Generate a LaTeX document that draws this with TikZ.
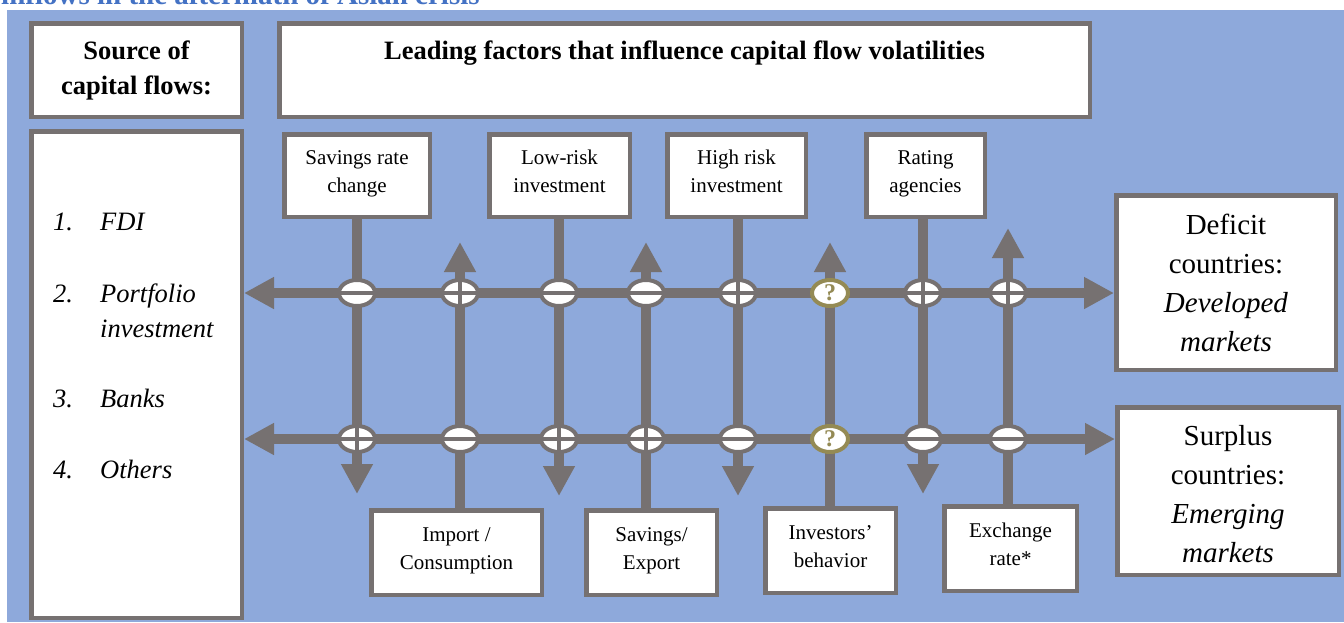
\documentclass[tikz,border=0pt]{standalone}
\usepackage{fontspec}
\setmainfont{Liberation Serif}
\usetikzlibrary{arrows.meta,shapes.geometric,calc}

\definecolor{panelblue}{HTML}{8EA9DB}
\definecolor{linegray}{HTML}{767171}
\definecolor{olivering}{HTML}{948A54}
\definecolor{titleblue}{HTML}{4472C4}

% strut for the two-line factor labels (height 17pt, depth 11pt)
\newcommand\lnstrut{\rule[-11pt]{0pt}{28pt}}

\begin{document}
\begin{tikzpicture}[x=1pt,y=-1pt,
  box/.style={draw=linegray, line width=4.5pt, fill=white, inner sep=0pt, align=center},
  factor/.style={box, font=\fontsize{21}{28}\selectfont},
  header/.style={box, font=\fontsize{26.5}{35}\selectfont\bfseries},
  market/.style={box, font=\fontsize{29}{39}\selectfont},
  listitem/.style={anchor=base west, inner sep=0pt, font=\fontsize{26.5}{35}\selectfont\itshape},
  flow/.style={draw=linegray, line width=10pt},
  headtip/.style={-{Triangle[length=30pt,width=30pt]}},
  bothtips/.style={{Triangle[length=30pt,width=30pt]}-{Triangle[length=30pt,width=30pt]}},
  sign/.style={ellipse, draw=linegray, line width=4pt, fill=white,
    minimum width=36pt, minimum height=26pt, inner sep=0pt},
  minus/.style={sign, path picture={
    \fill[linegray] ([yshift=-1.8pt]path picture bounding box.west)
      rectangle ([yshift=1.8pt]path picture bounding box.east);}},
  plus/.style={sign, path picture={
    \fill[linegray] ([yshift=-1.8pt]path picture bounding box.west)
      rectangle ([yshift=1.8pt]path picture bounding box.east);
    \fill[linegray] ([xshift=-1.8pt]path picture bounding box.south)
      rectangle ([xshift=1.8pt]path picture bounding box.north);}},
  query/.style={sign, draw=olivering, text=olivering,
    font=\fontsize{24}{24}\selectfont\bfseries}
]
\useasboundingbox (0,0) rectangle (1344,622);
\fill[white] (0,0) rectangle (1344,622);
\fill[panelblue] (7,10) rectangle (1344,622);

% caption line above the panel
\node[anchor=base west, inner sep=0pt, text=titleblue,
  font=\fontsize{29}{35}\selectfont\bfseries] (title) at (1,4)
  {inflows in the aftermath of Asian crisis};

% headers
\node[header, minimum width=210.5pt, minimum height=93.5pt] (src) at (136.5,70)
  {\strut Source of\\\strut capital flows:};
\node[header, minimum width=810.5pt, minimum height=93.5pt] (lead) at (684.5,70)
  {\strut Leading factors that influence capital flow volatilities\\\strut};

% list of sources
\node[box, minimum width=210.5pt, minimum height=486.5pt] (list) at (136.5,374.5) {};
\node[listitem] (n1) at (53,230) {1.};
\node[listitem] (i1) at (100,230) {FDI};
\node[listitem] (n2) at (53,302) {2.};
\node[listitem] (i2) at (100,302) {Portfolio};
\node[listitem] (i2b) at (100,337) {investment};
\node[listitem] (n3) at (53,407) {3.};
\node[listitem] (i3) at (100,407) {Banks};
\node[listitem] (n4) at (53,478) {4.};
\node[listitem] (i4) at (100,478) {Others};

% destination markets
\node[market, minimum width=219.5pt, minimum height=174.5pt] (deficit) at (1226,282.5)
  {\rule{0pt}{32pt}Deficit\\\strut countries:\\\strut\textit{Developed}\\\strut\textit{markets}};
\node[market, minimum width=221.5pt, minimum height=167.5pt] (surplus) at (1228,491)
  {\rule{0pt}{37pt}Surplus\\\strut countries:\\\strut\textit{Emerging}\\\strut\textit{markets}};

% factor boxes, upper row
\node[factor, minimum width=145.5pt, minimum height=82.5pt] (A) at (357,175.5)
  {\lnstrut Savings rate\\\lnstrut change};
\node[factor, minimum width=140.5pt, minimum height=82.5pt] (B) at (559.5,175.5)
  {\lnstrut Low-risk\\\lnstrut investment};
\node[factor, minimum width=138.5pt, minimum height=82.5pt] (C) at (736.5,175.5)
  {\lnstrut High risk\\\lnstrut investment};
\node[factor, minimum width=118.5pt, minimum height=82.5pt] (D) at (925.5,175.5)
  {\lnstrut Rating\\\lnstrut agencies};

% factor boxes, lower row
\node[factor, minimum width=170.5pt, minimum height=84.5pt] (E) at (456.5,552.5)
  {\lnstrut Import /\\\lnstrut Consumption};
\node[factor, minimum width=130.5pt, minimum height=84.5pt] (F) at (651.5,552.5)
  {\lnstrut Savings/\\\lnstrut Export};
\node[factor, minimum width=130.5pt, minimum height=84.5pt] (G) at (830.5,550.5)
  {\lnstrut Investors’\\\lnstrut behavior};
\node[factor, minimum width=132.5pt, minimum height=84.5pt] (H) at (1010.5,548.5)
  {\lnstrut Exchange\\\lnstrut rate*};

% flow rows
\coordinate (rowT) at (0,293);
\coordinate (rowB) at (0,439);
\draw[flow, bothtips] (list.east |- rowT) -- (deficit.west |- rowT);
\draw[flow, bothtips] (list.east |- rowB) -- (surplus.west |- rowB);

% factor columns and their free ends
\coordinate (t1) at (357,494);
\coordinate (t2) at (460,242);
\coordinate (t3) at (559,496);
\coordinate (t4) at (646,242);
\coordinate (t5) at (738,496);
\coordinate (t6) at (830,242);
\coordinate (t7) at (923,494);
\coordinate (t8) at (1008,228);
\draw[flow, headtip] (A.south -| t1) -- (t1);
\draw[flow, headtip] (E.north -| t2) -- (t2);
\draw[flow, headtip] (B.south -| t3) -- (t3);
\draw[flow, headtip] (F.north -| t4) -- (t4);
\draw[flow, headtip] (C.south -| t5) -- (t5);
\draw[flow, headtip] (G.north -| t6) -- (t6);
\draw[flow, headtip] (D.south -| t7) -- (t7);
\draw[flow, headtip] (H.north -| t8) -- (t8);

% effect signs at the crossings
\node[minus] (s1T) at (t1 |- rowT) {};
\node[plus]  (s1B) at (t1 |- rowB) {};
\node[plus]  (s2T) at (t2 |- rowT) {};
\node[minus] (s2B) at (t2 |- rowB) {};
\node[minus] (s3T) at (t3 |- rowT) {};
\node[plus]  (s3B) at (t3 |- rowB) {};
\node[minus] (s4T) at (t4 |- rowT) {};
\node[plus]  (s4B) at (t4 |- rowB) {};
\node[plus]  (s5T) at (t5 |- rowT) {};
\node[minus] (s5B) at (t5 |- rowB) {};
\node[query] (s6T) at (t6 |- rowT) {?};
\node[query] (s6B) at (t6 |- rowB) {?};
\node[plus]  (s7T) at (t7 |- rowT) {};
\node[minus] (s7B) at (t7 |- rowB) {};
\node[plus]  (s8T) at (t8 |- rowT) {};
\node[minus] (s8B) at (t8 |- rowB) {};
\end{tikzpicture}
\end{document}
